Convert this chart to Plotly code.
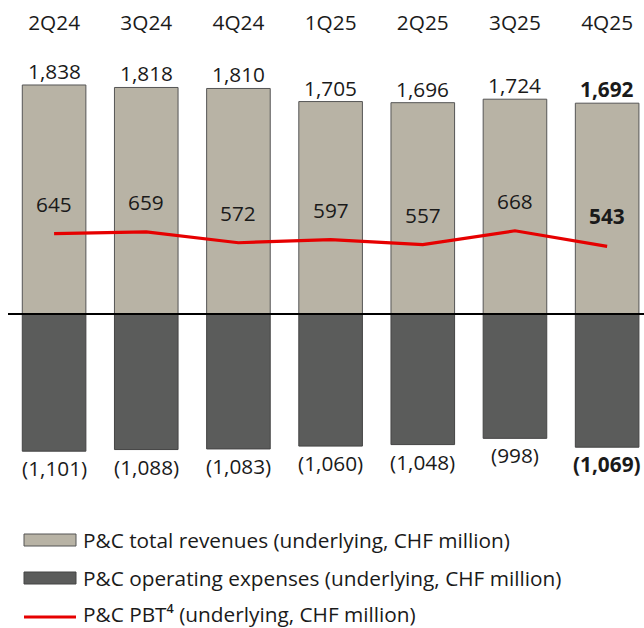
import plotly.graph_objects as go

quarters = ["2Q24", "3Q24", "4Q24", "1Q25", "2Q25", "3Q25", "4Q25"]
revenues = [1838, 1818, 1810, 1705, 1696, 1724, 1692]
expenses = [-1101, -1088, -1083, -1060, -1048, -998, -1069]
pbt = [645, 659, 572, 597, 557, 668, 543]

legend_labels = [
    "P&C total revenues (underlying, CHF million)",
    "P&C operating expenses (underlying, CHF million)",
    "P&C PBT⁴ (underlying, CHF million)",
]

FONT = "Open Sans"
FS = 20.8
TXT = "#1a1a1a"
REV_C = "#B8B3A5"
EXP_C = "#5B5C5B"
RED = "#E60000"

W, H = 644, 628
ML, MR, MT, MB = 8, 0, 45, 0
PX_PER_UNIT = 0.1246
zero_px = 314
ymax = (zero_px - MT) / PX_PER_UNIT
ymin = ymax - (H - MT - MB) / PX_PER_UNIT

fig = go.Figure()
fig.add_trace(go.Bar(x=quarters, y=revenues, marker=dict(color=REV_C, line=dict(color="#555555", width=1)),
                     width=0.69, showlegend=False, hoverinfo="skip"))
fig.add_trace(go.Bar(x=quarters, y=expenses, marker=dict(color=EXP_C, line=dict(color="#444444", width=1)),
                     width=0.69, showlegend=False, hoverinfo="skip"))
fig.add_trace(go.Scatter(x=quarters, y=pbt, mode="lines", line=dict(color=RED, width=3.2),
                         showlegend=False, hoverinfo="skip"))

def fmt(v):
    return f"{abs(v):,}"

last = len(quarters) - 1
anns = []
for i, q in enumerate(quarters):
    bold = i == last
    def t(s):
        return f"<b>{s}</b>" if bold else s
    anns.append(dict(x=q, y=revenues[i], text=t(fmt(revenues[i])), showarrow=False,
                     yanchor="middle", yshift=14))
    anns.append(dict(x=q, y=expenses[i], text=t(f"({fmt(expenses[i])})"), showarrow=False,
                     yanchor="middle", yshift=-17))
    anns.append(dict(x=q, y=pbt[i], text=t(str(pbt[i])), showarrow=False,
                     yanchor="middle", yshift=30))

plot_h = H - MT - MB
plot_w = W - ML - MR
def py(p):
    return (H - MB - p) / plot_h
def px(p):
    return (p - ML) / plot_w

shapes = [dict(type="line", xref="paper", yref="y", x0=0, x1=1, y0=0, y1=0,
               line=dict(color="black", width=2), layer="above")]

leg_rows = [540, 578, 614]
# legend symbols
shapes.append(dict(type="rect", xref="paper", yref="paper", x0=px(24), x1=px(76),
                   y0=py(546), y1=py(534), fillcolor=REV_C, line=dict(color="#555555", width=1)))
shapes.append(dict(type="rect", xref="paper", yref="paper", x0=px(24), x1=px(76),
                   y0=py(584), y1=py(572), fillcolor=EXP_C, line=dict(color="#444444", width=1)))
shapes.append(dict(type="line", xref="paper", yref="paper", x0=px(24), x1=px(76),
                   y0=py(617), y1=py(617), line=dict(color=RED, width=3)))
for lbl, r in zip(legend_labels, leg_rows):
    anns.append(dict(xref="paper", yref="paper", x=px(81), y=py(r), text=lbl, showarrow=False,
                     xanchor="left", yanchor="middle"))

fig.update_layout(
    width=W, height=H,
    margin=dict(l=ML, r=MR, t=MT, b=MB, pad=0),
    plot_bgcolor="white", paper_bgcolor="white",
    barmode="relative", bargap=0.31,
    font=dict(family=FONT, size=FS, color=TXT),
    annotations=anns, shapes=shapes,
    xaxis=dict(side="top", range=[-0.5, 6.4], showgrid=False, showline=False, ticks="",
               tickfont=dict(family=FONT, size=FS, color=TXT), ticklabelstandoff=10),
    yaxis=dict(range=[ymin, ymax], visible=False, showgrid=False, zeroline=False),
)

fig.write_html("out.html")
